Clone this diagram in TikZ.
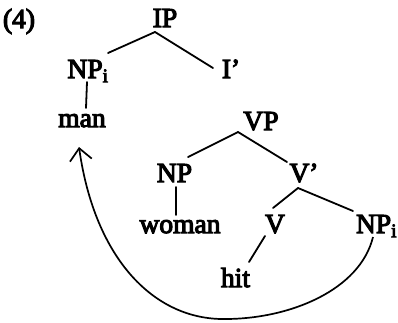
\documentclass[tikz,border=0pt]{standalone}
\usepackage{fontspec}
\setmainfont{Liberation Serif}
\newfontfamily\scanfont{Liberation Serif}[FakeBold=4]
\usetikzlibrary{arrows.meta}
\begin{document}
\begin{tikzpicture}[x=1pt,y=-1pt,
  lab/.style={inner sep=0pt,outer sep=0pt,anchor=base,font=\fontsize{27.5}{30}\scanfont},
  edge/.style={line width=1.8pt,line cap=round},
  move/.style={line width=1.7pt,-{Straight Barb[length=12pt,width=22pt,line width=1.7pt]}}]
\useasboundingbox (0,0) rectangle (398,322);
\node[lab] (ex) at (19,28) {(4)};
\node[lab] (ip) at (165,27) {IP};
\node[lab] (npa) at (88,78) {NP\textsubscript{i}};
\node[lab] (ib) at (231,78) {I’};
\node[lab] (man) at (82,127) {man};
\node[lab] (vp) at (261,130) {VP};
\node[lab] (npb) at (174.5,182) {NP};
\node[lab] (vb) at (304,182) {V’};
\node[lab] (woman) at (180,233) {woman};
\node[lab] (v) at (275,233) {V};
\node[lab] (npc) at (376.5,233) {NP\textsubscript{i}};
\node[lab] (hit) at (235.5,287) {hit};
% tree edges
\draw[edge] ([shift={(-10,5)}]ip.base) -- ([shift={(20,-25)}]npa.base);
\draw[edge] ([shift={(-10,5)}]ip.base) -- ([shift={(-18,-10)}]ib.base);
\draw[edge] ([shift={(-1,4)}]npa.base) -- ([shift={(4,-19)}]man.base);
\draw[edge] ([shift={(-23,2)}]vp.base) -- ([shift={(13.5,-25)}]npb.base);
\draw[edge] ([shift={(-23,2)}]vp.base) -- ([shift={(-17,-20)}]vb.base);
\draw[edge] ([shift={(1.5,5)}]npb.base) -- ([shift={(-4,-18)}]woman.base);
\draw[edge] ([shift={(-6,6)}]vb.base) -- ([shift={(-2,-25)}]v.base);
\draw[edge] ([shift={(-6,6)}]vb.base) -- ([shift={(-23.5,-22)}]npc.base);
\draw[edge] ([shift={(-10,3)}]v.base) -- ([shift={(13.5,-25)}]hit.base);
% movement arrow
\draw[move] ([shift={(-3.5,4)}]npc.base) .. controls (360,290) and (290,319) .. (225,319)
  .. controls (155,320) and (95,260) .. ([shift={(-3,20)}]man.base);
\end{tikzpicture}
\end{document}
